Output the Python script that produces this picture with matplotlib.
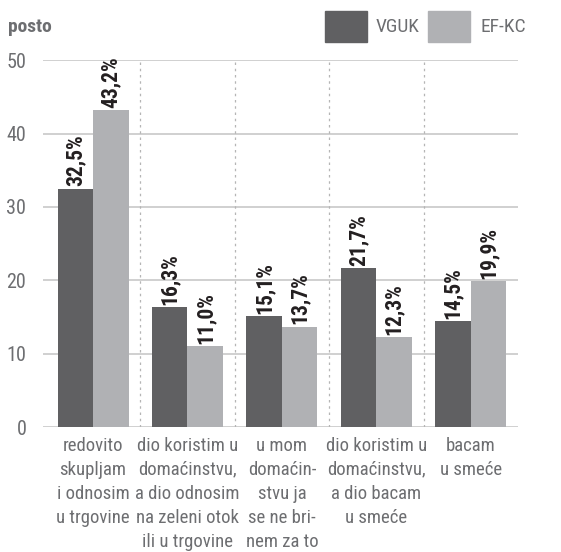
import numpy as np
import matplotlib.pyplot as plt

plt.rcParams['font.family'] = ['Roboto Condensed', 'DejaVu Sans']

categories = ["redovito\nskupljam\ni odnosim\nu trgovine",
              "dio koristim u\ndomaćinstvu,\na dio odnosim\nna zeleni otok\nili u trgovine",
              "u mom\ndomaćin-\nstvu ja\nse ne bri-\nnem za to",
              "dio koristim u\ndomaćinstvu,\na dio bacam\nu smeće",
              "bacam\nu smeće"]
vguk = [32.5, 16.3, 15.1, 21.7, 14.5]
efkc = [43.2, 11.0, 13.7, 12.3, 19.9]
series_names = ["VGUK", "EF-KC"]
yticks = [0, 10, 20, 30, 40, 50]

dark = '#606062'
light = '#b0b1b4'
txt = '#6d6e71'

fig = plt.figure(figsize=(5.61, 5.52), dpi=100)
ax = fig.add_axes([0.0766, 0.2264, 0.8467, 0.6646])

x = np.arange(len(categories))
w = 0.376
b1 = ax.bar(x - w/2, vguk, w, color=dark, zorder=3)
b2 = ax.bar(x + w/2, efkc, w, color=light, zorder=3)

def fmt(v):
    return ('%.1f%%' % v).replace('.', ',')

for bars, vals in ((b1, vguk), (b2, efkc)):
    for r, v in zip(bars, vals):
        ax.annotate(fmt(v), (r.get_x() + r.get_width()/2, v), xytext=(0, 1.5),
                    textcoords='offset points', rotation=90, ha='center', va='bottom',
                    fontsize=15.5, fontweight='bold', color='#231f20', clip_on=False)

ax.set_xlim(-0.53, 4.5)
ax.set_ylim(0, 50)
ax.set_yticks(yticks)
for t in yticks:
    ax.axhline(t, color='#c8c8c8', lw=1.2, zorder=1)
for s in np.arange(0.5, 4, 1):
    ax.axvline(s, color='#b5b5b5', lw=0.9, ls=(0, (2, 3)), zorder=1)

for sp in ax.spines.values():
    sp.set_visible(False)
ax.tick_params(axis='y', length=0, pad=12, labelsize=14.5, labelcolor=txt)
ax.set_xticks(x)
ax.set_xticklabels(categories, fontsize=13.5, color=txt, linespacing=1.43)
ax.tick_params(axis='x', length=0, pad=7)

fig.text(0.014, 1 - 27/552, "posto", fontsize=14, fontweight='bold', color=txt, va='center')

# legend
fig.patches.append(plt.Rectangle((325/561, 1 - 42/552), 42/561, 31/552,
                                 transform=fig.transFigure, color=dark))
fig.text(376/561, 1 - 27/552, series_names[0], fontsize=14, color=txt, va='center')
fig.patches.append(plt.Rectangle((428/561, 1 - 42/552), 42/561, 31/552,
                                 transform=fig.transFigure, color=light))
fig.text(480/561, 1 - 27/552, series_names[1], fontsize=14, color=txt, va='center')

fig.savefig('out.png', dpi=100)
